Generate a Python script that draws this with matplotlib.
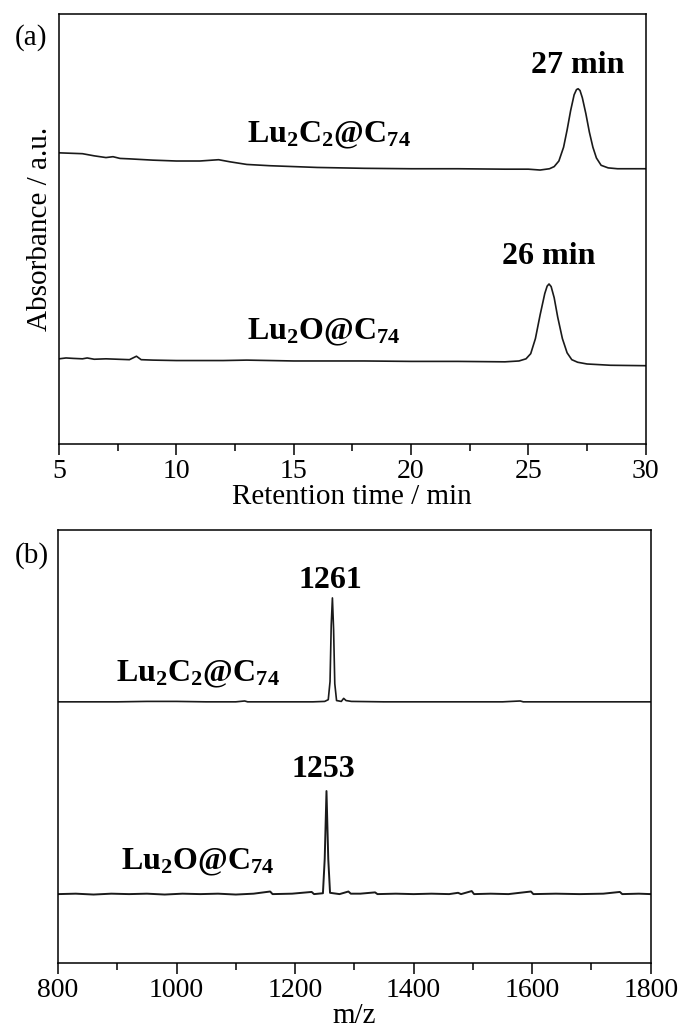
import matplotlib
matplotlib.use("Agg")
import matplotlib.pyplot as plt
from matplotlib.ticker import MultipleLocator

plt.rcParams['font.family'] = ['Liberation Serif', 'DejaVu Serif']
plt.rcParams['mathtext.fontset'] = 'custom'
plt.rcParams['mathtext.rm'] = 'Liberation Serif'
plt.rcParams['mathtext.bf'] = 'Liberation Serif:bold'
plt.rcParams['mathtext.it'] = 'Liberation Serif:italic'

# ---------------- Data: panel (a) HPLC ----------------
hplc_c2_time = [5.0, 5.5, 6.0, 6.5, 7.0, 7.3, 7.6, 8.0, 9.0, 10.0, 11.0, 11.8, 12.3, 13.0,
                14.0, 15.0, 16.0, 18.0, 20.0, 22.0, 24.0, 25.0, 25.5, 25.9, 26.1, 26.3,
                26.5, 26.65, 26.8, 26.95, 27.05, 27.12, 27.2, 27.3, 27.45, 27.6, 27.75,
                27.9, 28.1, 28.4, 28.8, 29.3, 30.0]
hplc_c2_abs = [0.677, 0.676, 0.675, 0.670, 0.666, 0.668, 0.664, 0.663, 0.660, 0.658, 0.658,
               0.661, 0.656, 0.650, 0.647, 0.645, 0.643, 0.641, 0.640, 0.640, 0.639, 0.639,
               0.637, 0.640, 0.645, 0.658, 0.690, 0.730, 0.775, 0.812, 0.824, 0.826, 0.822,
               0.805, 0.768, 0.725, 0.690, 0.665, 0.648, 0.642, 0.640, 0.640, 0.640]

hplc_o_time = [5.0, 5.3, 5.6, 6.0, 6.2, 6.5, 7.0, 7.5, 8.0, 8.3, 8.5, 9.0, 10.0, 12.0, 13.0,
               15.0, 18.0, 20.0, 22.0, 24.0, 24.6, 24.9, 25.1, 25.3, 25.5, 25.7, 25.8,
               25.88, 25.97, 26.1, 26.25, 26.45, 26.65, 26.85, 27.1, 27.5, 28.5, 30.0]
hplc_o_abs = [0.198, 0.200, 0.199, 0.198, 0.200, 0.197, 0.198, 0.197, 0.196, 0.204, 0.196,
              0.195, 0.194, 0.194, 0.195, 0.193, 0.193, 0.192, 0.192, 0.191, 0.193, 0.198,
              0.210, 0.245, 0.300, 0.350, 0.367, 0.372, 0.366, 0.340, 0.295, 0.245, 0.212,
              0.196, 0.190, 0.186, 0.183, 0.182]

# ---------------- Data: panel (b) MS ----------------
ms_c2_mz = [800, 850, 900, 950, 1000, 1050, 1100, 1115, 1120, 1180, 1230, 1250, 1256, 1259,
            1261, 1263, 1265, 1267, 1270, 1278, 1282, 1286, 1295, 1350, 1450, 1550, 1580,
            1585, 1650, 1750, 1800]
ms_c2_int = [0.603, 0.603, 0.603, 0.604, 0.604, 0.603, 0.603, 0.605, 0.603, 0.603, 0.603,
             0.604, 0.608, 0.650, 0.780, 0.843, 0.770, 0.645, 0.606, 0.604, 0.611, 0.606,
             0.604, 0.603, 0.603, 0.603, 0.605, 0.603, 0.603, 0.603, 0.603]

ms_o_mz = [800, 830, 860, 890, 920, 950, 980, 1010, 1040, 1070, 1100, 1130, 1158, 1162,
           1195, 1228, 1232, 1247, 1250, 1253, 1256, 1259, 1275, 1290, 1294, 1310, 1335,
           1339, 1370, 1400, 1430, 1460, 1475, 1480, 1498, 1502, 1530, 1560, 1598, 1602,
           1640, 1680, 1720, 1748, 1752, 1780, 1800]
ms_o_int = [0.159, 0.160, 0.158, 0.160, 0.159, 0.160, 0.158, 0.160, 0.159, 0.160, 0.158,
            0.160, 0.165, 0.159, 0.160, 0.164, 0.159, 0.161, 0.240, 0.397, 0.240, 0.162,
            0.159, 0.165, 0.160, 0.160, 0.163, 0.159, 0.160, 0.159, 0.160, 0.159, 0.162,
            0.159, 0.166, 0.159, 0.160, 0.159, 0.165, 0.159, 0.160, 0.159, 0.160, 0.164,
            0.159, 0.160, 0.159]

TICK_FS = 20
LABEL_FS = 21
ANN_FS = 23

fig = plt.figure(figsize=(6.83, 10.32), dpi=100)
ax_a = fig.add_axes([0.0864, 0.5698, 0.859, 0.4167])
ax_b = fig.add_axes([0.0849, 0.0669, 0.8678, 0.4196])

for ax in (ax_a, ax_b):
    for s in ax.spines.values():
        s.set_linewidth(1.1)
    ax.set_yticks([])
    ax.tick_params(axis='x', which='major', direction='out', length=8, width=1.1,
                   labelsize=TICK_FS, pad=3)
    ax.tick_params(axis='x', which='minor', direction='out', length=5, width=1.1)
    ax.set_ylim(0, 1)

# Panel (a)
ax_a.plot(hplc_c2_time, hplc_c2_abs, color='#1a1a1a', lw=1.2)
ax_a.plot(hplc_o_time, hplc_o_abs, color='#1a1a1a', lw=1.2)
ax_a.set_xlim(5, 30)
ax_a.xaxis.set_major_locator(MultipleLocator(5))
ax_a.xaxis.set_minor_locator(MultipleLocator(2.5))
ax_a.set_xlabel('Retention time / min', fontsize=LABEL_FS, labelpad=0)
ax_a.set_ylabel('Absorbance / a.u.', fontsize=LABEL_FS, labelpad=4)
ax_a.text(13.0, 0.700, r'$\mathbf{Lu_2C_2@C_{74}}$', fontsize=ANN_FS, ha='left', va='baseline')
ax_a.text(13.0, 0.244, r'$\mathbf{Lu_2O@C_{74}}$', fontsize=ANN_FS, ha='left', va='baseline')
ax_a.text(27.1, 0.863, '27 min', fontsize=ANN_FS, fontweight='bold', ha='center', va='baseline')
ax_a.text(25.85, 0.419, '26 min', fontsize=ANN_FS, fontweight='bold', ha='center', va='baseline')

# Panel (b)
ax_b.plot(ms_c2_mz, ms_c2_int, color='#1a1a1a', lw=1.2)
ax_b.plot(ms_o_mz, ms_o_int, color='#1a1a1a', lw=1.4)
ax_b.set_xlim(800, 1800)
ax_b.xaxis.set_major_locator(MultipleLocator(200))
ax_b.xaxis.set_minor_locator(MultipleLocator(100))
ax_b.set_xlabel('m/z', fontsize=LABEL_FS, labelpad=0)
ax_b.text(898, 0.649, r'$\mathbf{Lu_2C_2@C_{74}}$', fontsize=ANN_FS, ha='left', va='baseline')
ax_b.text(906, 0.215, r'$\mathbf{Lu_2O@C_{74}}$', fontsize=ANN_FS, ha='left', va='baseline')
ax_b.text(1259, 0.866, '1261', fontsize=ANN_FS, fontweight='bold', ha='center', va='baseline')
ax_b.text(1248, 0.430, '1253', fontsize=ANN_FS, fontweight='bold', ha='center', va='baseline')

fig.text(15 / 683, 1 - 45 / 1032, '(a)', fontsize=LABEL_FS, ha='left', va='baseline')
fig.text(15 / 683, 1 - 563 / 1032, '(b)', fontsize=LABEL_FS, ha='left', va='baseline')

fig.savefig('out.png', dpi=100)
